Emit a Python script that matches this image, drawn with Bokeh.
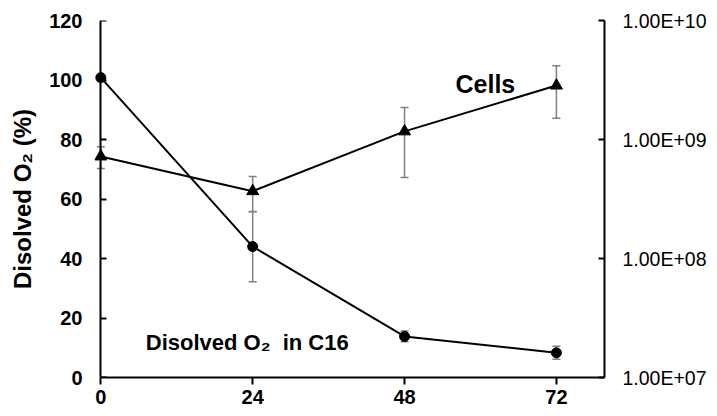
from bokeh.plotting import figure
from bokeh.models import (Range1d, LogScale, LogAxis, LinearAxis, FixedTicker, CustomJSTickFormatter,
                          Whisker, ColumnDataSource, Label, TeeHead)
from bokeh.embed import file_html
from bokeh.resources import INLINE

hours = [0, 24, 48, 72]
o2_pct = [100.8, 44.0, 13.8, 8.3]
o2_err = [0.0, 11.8, 1.8, 2.2]
cells = [7.2e8, 3.68e8, 1.17e9, 2.84e9]
cells_err = [1.5e8, 1.21e8, 6.9e8, 1.33e9]
x_ticks = [0, 24, 48, 72]
left_ticks = [0, 20, 40, 60, 80, 100, 120]
right_ticks = [1e7, 1e8, 1e9, 1e10]

FONT = "Liberation Sans"
GREY = "#808080"

p = figure(width=715, height=414, output_backend="svg", toolbar_location=None,
           x_range=Range1d(-1.0, 79.6), y_range=Range1d(0, 120),
           min_border_left=94, min_border_right=111, min_border_top=20, min_border_bottom=37)
p.extra_y_ranges = {"cells": Range1d(1e7, 1e10)}
p.extra_y_scales = {"cells": LogScale()}
p.outline_line_color = None
p.grid.visible = False
p.background_fill_color = "white"
p.border_fill_color = "white"

# bottom axis
xa = p.xaxis[0]
xa.ticker = FixedTicker(ticks=x_ticks)
xa.bounds = (0, 79.6)
xa.axis_line_width = 2
xa.major_tick_line_width = 2
xa.major_tick_in = 0
xa.major_tick_out = 7
xa.minor_tick_line_color = None
xa.major_label_standoff = 5
xa.major_label_text_font = FONT
xa.major_label_text_font_style = "bold"
xa.major_label_text_font_size = "20px"
xa.major_label_text_color = "black"

# left axis: labels only (panel side)
ya = p.yaxis[0]
ya.ticker = FixedTicker(ticks=left_ticks)
ya.axis_line_color = None
ya.major_tick_line_color = None
ya.major_tick_in = 0
ya.major_tick_out = 0
ya.minor_tick_line_color = None
ya.major_label_standoff = 12
ya.major_label_text_font = FONT
ya.major_label_text_font_style = "bold"
ya.major_label_text_font_size = "20px"
ya.major_label_text_color = "black"
ya.axis_label = "Disolved O\u2082 (%)"
ya.axis_label_text_font = FONT
ya.axis_label_text_font_style = "bold"
ya.axis_label_text_font_size = "24px"
ya.axis_label_text_color = "black"
ya.axis_label_standoff = 10

# left axis line and ticks drawn at x = 0
ya2 = LinearAxis(fixed_location=0, ticker=FixedTicker(ticks=left_ticks),
                 formatter=CustomJSTickFormatter(code="return '';"))
ya2.axis_line_width = 2
ya2.major_tick_line_width = 2
ya2.major_tick_in = 6
ya2.major_tick_out = 0
ya2.minor_tick_line_color = None
ya2.major_label_standoff = 0
p.add_layout(ya2, "left")

# right log axis
ra = LogAxis(y_range_name="cells", ticker=FixedTicker(ticks=right_ticks),
             formatter=CustomJSTickFormatter(code=r"""
const s = tick.toExponential(2).toUpperCase();
return s.replace(/E([+-])(\d)$/, (m, a, b) => "E" + a + "0" + b);
"""))
ra.axis_line_width = 2
ra.major_tick_line_width = 2
ra.major_tick_in = 6
ra.major_tick_out = 0
ra.minor_tick_line_color = None
ra.major_label_standoff = 18
ra.major_label_text_font = FONT
ra.major_label_text_font_style = "normal"
ra.major_label_text_font_size = "19.5px"
ra.major_label_text_color = "black"
p.add_layout(ra, "right")

# error bars
o2_src = ColumnDataSource(dict(x=hours,
                               upper=[v + e for v, e in zip(o2_pct, o2_err)],
                               lower=[v - e for v, e in zip(o2_pct, o2_err)]))
cell_src = ColumnDataSource(dict(x=hours,
                                 upper=[v + e for v, e in zip(cells, cells_err)],
                                 lower=[v - e for v, e in zip(cells, cells_err)]))
for src, rng in ((o2_src, "default"), (cell_src, "cells")):
    w = Whisker(base="x", upper="upper", lower="lower", source=src, y_range_name=rng,
                line_color=GREY, line_width=1.5,
                upper_head=TeeHead(size=8, line_color=GREY, line_width=1.5),
                lower_head=TeeHead(size=8, line_color=GREY, line_width=1.5))
    p.add_layout(w)

# series
p.line(hours, o2_pct, line_color="black", line_width=2)
p.scatter(hours, o2_pct, marker="circle", size=10, color="black")
p.line(hours, cells, y_range_name="cells", line_color="black", line_width=2)
p.scatter(hours, cells, y_range_name="cells", marker="triangle", size=12, color="black")

# annotations
p.add_layout(Label(x=56.05, y=98.5, text="Cells", text_font=FONT, text_font_style="bold",
                   text_font_size="25px", text_baseline="alphabetic", text_color="black"))
p.add_layout(Label(x=7.1, y=11.8, text="Disolved O\u2082\u00a0 in C16", text_font=FONT,
                   text_font_style="bold", text_font_size="22px", text_baseline="alphabetic",
                   text_color="black"))

open("out.html", "w").write(file_html(p, INLINE))
